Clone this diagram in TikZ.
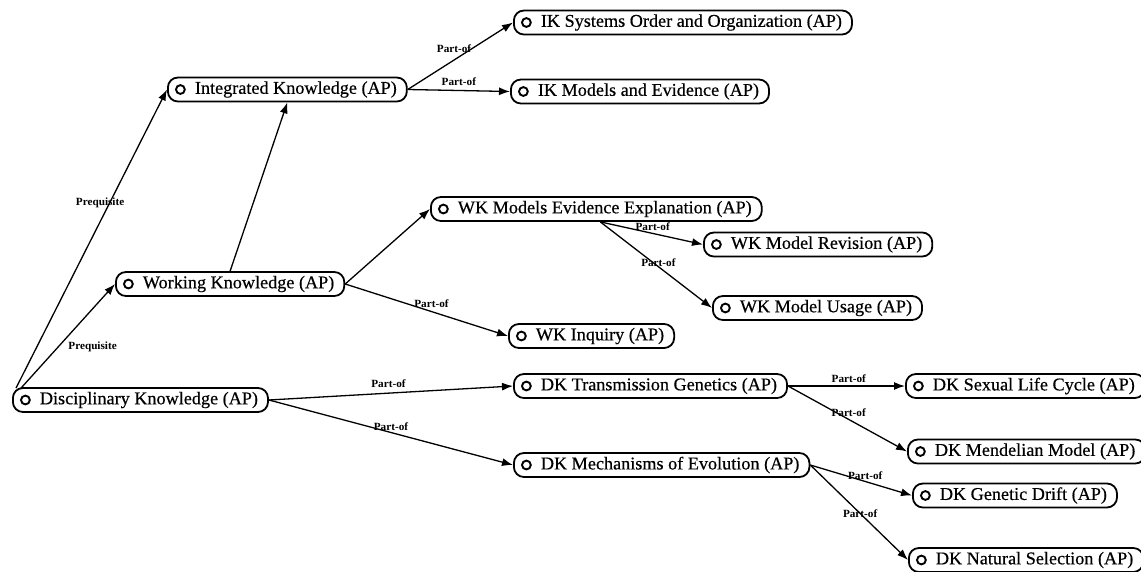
\documentclass[tikz,border=0pt]{standalone}
\usepackage{fontspec}
\setmainfont{Liberation Serif}
\newfontfamily\boxfont{Liberation Serif}[FakeStretch=1.01, FakeBold=0.5]
\newfontfamily\tagfont{Liberation Serif Bold}[FakeStretch=1.02]
\usetikzlibrary{arrows.meta}
\begin{document}
\begin{tikzpicture}[x=1pt,y=-1pt,
  concept/.style={draw, line width=1.8pt, rounded corners=10pt,
    minimum height=24pt, inner xsep=10pt, inner ysep=0pt, anchor=west,
    font=\boxfont\fontsize{18}{20}\selectfont,
    execute at begin node={\hspace*{17pt}},
    path picture={\draw[line width=1.9pt]
      ([xshift=12.5pt]path picture bounding box.west) circle (4.4pt);}},
  link/.style={line width=1.3pt, -{Latex[length=11pt,width=8pt]}},
  lbl/.style={font=\tagfont\fontsize{11}{12}\selectfont, inner sep=0pt}]

\useasboundingbox (0,0) rectangle (1141,571);

% concept nodes
\node[concept] (disc)    at (12,400)    {Disciplinary Knowledge (AP)};
\node[concept] (work)    at (115,284)   {Working Knowledge (AP)};
\node[concept] (integ)   at (167,89.5)  {Integrated Knowledge (AP)};
\node[concept] (iksys)   at (513,22.5)  {IK Systems Order and Organization (AP)};
\node[concept] (ikmod)   at (510,91.5)  {IK Models and Evidence (AP)};
\node[concept] (wkmee)   at (430,209)   {WK Models Evidence Explanation (AP)};
\node[concept] (wkrev)   at (703,244.5) {WK Model Revision (AP)};
\node[concept] (wkuse)   at (712,308)   {WK Model Usage (AP)};
\node[concept] (wkinq)   at (508,336)   {WK Inquiry (AP)};
\node[concept] (dktg)    at (513,386)   {DK Transmission Genetics (AP)};
\node[concept] (dkme)    at (513,465)   {DK Mechanisms of Evolution (AP)};
\node[concept] (dksex)   at (905,386)   {DK Sexual Life Cycle (AP)};
\node[concept] (dkmen)   at (907,451.5) {DK Mendelian Model (AP)};
\node[concept] (dkdrift) at (912,495.5) {DK Genetic Drift (AP)};
\node[concept] (dknat)   at (908,560)   {DK Natural Selection (AP)};

% relations
\draw[link] ([shift={(4,1)}]disc.north west) -- (integ.west)
  node[lbl,pos=0.62,xshift=-9.5pt] {Prequisite};
\draw[link] ([shift={(9,1)}]disc.north west) -- (work.west)
  node[lbl,pos=0.4,xshift=34pt] {Prequisite};
\draw[link] (work.north) -- (integ.south);
\draw[link] (work.east) -- (wkmee.west);
\draw[link] (work.east) -- (wkinq.west)
  node[lbl,pos=0.53,yshift=7.5pt] {Part-of};
\draw[link] (integ.east) -- (iksys.west)
  node[lbl,pos=0.44,yshift=11pt] {Part-of};
\draw[link] (integ.east) -- (ikmod.west)
  node[lbl,pos=0.5,yshift=8.5pt] {Part-of};
\draw[link] ([xshift=4pt]wkmee.south) -- (wkrev.west)
  node[lbl,pos=0.51,yshift=6.5pt] {Part-of};
\draw[link] ([xshift=4pt]wkmee.south) -- (wkuse.west)
  node[lbl,pos=0.52,yshift=4pt] {Part-of};
\draw[link] (disc.east) -- (dktg.west)
  node[lbl,pos=0.49,yshift=9pt] {Part-of};
\draw[link] (disc.east) -- (dkme.west)
  node[lbl,pos=0.5,yshift=6pt] {Part-of};
\draw[link] (dktg.east) -- (dksex.west)
  node[lbl,pos=0.52,yshift=7pt] {Part-of};
\draw[link] (dktg.east) -- (dkmen.west)
  node[lbl,pos=0.51,yshift=6.5pt] {Part-of};
\draw[link] (dkme.east) -- (dkdrift.west)
  node[lbl,pos=0.54,yshift=6pt] {Part-of};
\draw[link] (dkme.east) -- (dknat.west)
  node[lbl,pos=0.51] {Part-of};
\end{tikzpicture}
\end{document}
